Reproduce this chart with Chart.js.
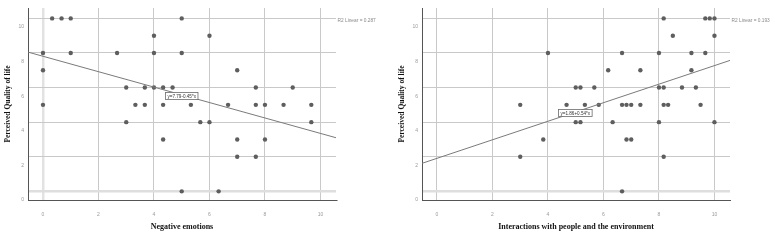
<!DOCTYPE html>
<html>
<head>
<meta charset="utf-8">
<script src="https://cdn.jsdelivr.net/npm/chart.js@4/dist/chart.umd.min.js"></script>
<style>
  body { margin: 0; background: #fff; }
  #wrap { position: relative; width: 775px; height: 240px; }
  #negChart { position: absolute; left: 0; top: 0; }
  #envChart { position: absolute; left: 394px; top: 0; }
</style>
</head>
<body>
<div id="wrap">
  <canvas id="negChart" width="390" height="240"></canvas>
  <canvas id="envChart" width="381" height="240"></canvas>
</div>
<script>
// ---- data ----
const xTicks = [0, 2, 4, 6, 8, 10];
const yTicks = [0, 0.5, 2, 2.5, 4, 4.5, 6, 6.5, 8, 8.5, 10, 10.5];

// Negative emotions vs Perceived Quality of life
const negX = [0.33, 0.67, 1, 5,
  4, 6,
  0, 1, 2.67, 4, 5,
  0, 7,
  3, 3.67, 4, 4.33, 4.67, 7.67, 9,
  0, 3.33, 3.67, 4.33, 5.33, 6.67, 7.67, 8, 8.67, 9.67,
  3, 5.67, 6, 9.67,
  4.33, 7, 8,
  7, 7.67,
  5, 6.33];
const negY = [10.5, 10.5, 10.5, 10.5,
  9.5, 9.5,
  8.5, 8.5, 8.5, 8.5, 8.5,
  7.5, 7.5,
  6.5, 6.5, 6.5, 6.5, 6.5, 6.5, 6.5,
  5.5, 5.5, 5.5, 5.5, 5.5, 5.5, 5.5, 5.5, 5.5, 5.5,
  4.5, 4.5, 4.5, 4.5,
  3.5, 3.5, 3.5,
  2.5, 2.5,
  0.5, 0.5];

// Interactions with people and the environment vs Perceived Quality of life
const envX = [8.17, 9.67, 9.83, 10,
  8.5, 10,
  4, 6.67, 8, 9.17, 9.67,
  6.17, 7.33, 9.17,
  5, 5.17, 5.67, 8, 8.17, 8.83, 9.33,
  3, 4.67, 5.33, 5.83, 6.67, 6.83, 7, 7.33, 8.17, 8.33, 9.5,
  5, 5.17, 6.33, 8, 10,
  3.83, 6.83, 7,
  3, 8.17,
  6.67];
const envY = [10.5, 10.5, 10.5, 10.5,
  9.5, 9.5,
  8.5, 8.5, 8.5, 8.5, 8.5,
  7.5, 7.5, 7.5,
  6.5, 6.5, 6.5, 6.5, 6.5, 6.5, 6.5,
  5.5, 5.5, 5.5, 5.5, 5.5, 5.5, 5.5, 5.5, 5.5, 5.5, 5.5,
  4.5, 4.5, 4.5, 4.5, 4.5,
  3.5, 3.5, 3.5,
  2.5, 2.5,
  0.5];

// fit lines, as drawn (ends at the axis limits)
const xRange = [-0.54, 10.56];
const yRange = [0, 11.1];
const negFitY = [8.55, 3.6];
const envFitY = [2.12, 8.07];

const negEquation = 'y=7.79-0.45*x';
const envEquation = 'y=1.86+0.54*x';
const negR2 = 'R2 Linear = 0.287';
const envR2 = 'R2 Linear = 0.193';
const negEqAt = [4.4, 6.24];   // top-left of the label box
const envEqAt = [4.37, 5.28];

const yTitle = 'Perceived Quality of life';

// ---- drawing ----
const labelsPlugin = {
  id: 'fitLabels',
  afterDatasetsDraw(chart) {
    const o = chart.options.plugins.fitLabels;
    const { ctx, chartArea, scales } = chart;
    ctx.save();
    // equation box
    ctx.font = '4.6px "Liberation Sans", Arial, sans-serif';
    const w = ctx.measureText(o.equation).width + 4;
    const h = 7;
    const bx = Math.round(scales.x.getPixelForValue(o.at[0])) + 0.5;
    const by = Math.round(scales.y.getPixelForValue(o.at[1])) + 0.5;
    ctx.fillStyle = '#fff';
    ctx.fillRect(bx, by, w, h);
    ctx.strokeStyle = '#6a6a6a';
    ctx.lineWidth = 0.8;
    ctx.strokeRect(bx, by, w, h);
    ctx.fillStyle = '#333';
    ctx.textBaseline = 'middle';
    ctx.fillText(o.equation, bx + 2, by + h / 2 + 0.3);
    // R2 text
    ctx.font = '4.8px "Liberation Sans", Arial, sans-serif';
    ctx.fillStyle = '#8a8a8a';
    ctx.fillText(o.r2, chartArea.right + 1.5, chartArea.top + 12.5);
    ctx.restore();
  }
};

function makeChart(id, xs, ys, fitY, equation, r2, at, xTitle, rightPad, zeroBand) {
  const points = xs.map((x, i) => ({ x: x, y: ys[i] }));
  const fit = xRange.map((x, i) => ({ x: x, y: fitY[i] }));

  return new Chart(document.getElementById(id), {
    type: 'scatter',
    data: {
      datasets: [
        {
          data: fit,
          showLine: true,
          pointRadius: 0,
          borderColor: '#7a7a7a',
          borderWidth: 1
        },
        {
          data: points,
          pointRadius: 2.2,
          pointHoverRadius: 2.2,
          backgroundColor: '#5e5e5e',
          borderWidth: 0
        }
      ]
    },
    options: {
      responsive: false,
      animation: false,
      layout: { padding: { top: 8, right: rightPad, left: 0, bottom: 0 } },
      plugins: {
        legend: { display: false },
        tooltip: { enabled: false },
        fitLabels: { equation: equation, r2: r2, at: at }
      },
      scales: {
        x: {
          type: 'linear',
          min: xRange[0],
          max: xRange[1],
          afterBuildTicks: (s) => { s.ticks = xTicks.map(v => ({ value: v })); },
          afterFit: (s) => { s.height = 40; },
          grid: {
            drawTicks: false,
            color: (c) => (zeroBand && c.tick && c.tick.value === 0) ? '#e2e2e2' : '#c9c9c9',
            lineWidth: (c) => (zeroBand && c.tick && c.tick.value === 0) ? 2.5 : 1
          },
          border: { display: true, color: '#555', width: 1 },
          ticks: {
            padding: 12,
            color: '#9a9a9a',
            font: { family: '"Liberation Sans", Arial, sans-serif', size: 5 },
            autoSkip: false,
            maxRotation: 0
          },
          title: {
            display: true,
            text: xTitle,
            color: '#111',
            font: { family: '"Liberation Serif", "Times New Roman", serif', size: 8, weight: 'bold' },
            padding: { top: 0, bottom: 8 }
          }
        },
        y: {
          type: 'linear',
          min: yRange[0],
          max: yRange[1],
          afterBuildTicks: (s) => { s.ticks = yTicks.map(v => ({ value: v })); },
          afterFit: (s) => { s.width = 28; },
          grid: {
            drawTicks: false,
            color: (c) => {
              if (!c.tick || c.tick.value % 1 === 0) return 'rgba(0,0,0,0)';
              return c.tick.value === 0.5 ? '#dedede' : '#c9c9c9';
            },
            lineWidth: (c) => (c.tick && c.tick.value === 0.5) ? 2.5 : 1
          },
          border: { display: true, color: '#555', width: 1 },
          ticks: {
            padding: 4,
            color: '#9a9a9a',
            font: { family: '"Liberation Sans", Arial, sans-serif', size: 5 },
            autoSkip: false,
            callback: (v) => (v % 1 === 0 ? v : '')
          },
          title: {
            display: true,
            text: yTitle,
            color: '#111',
            font: { family: '"Liberation Serif", "Times New Roman", serif', size: 7.5, weight: 'bold' },
            padding: { top: 3.5, bottom: 0 }
          }
        }
      }
    },
    plugins: [labelsPlugin]
  });
}

makeChart('negChart', negX, negY, negFitY, negEquation, negR2, negEqAt,
  'Negative emotions', 54, true);
makeChart('envChart', envX, envY, envFitY, envEquation, envR2, envEqAt,
  'Interactions with people and the environment', 45, false);
</script>
</body>
</html>
